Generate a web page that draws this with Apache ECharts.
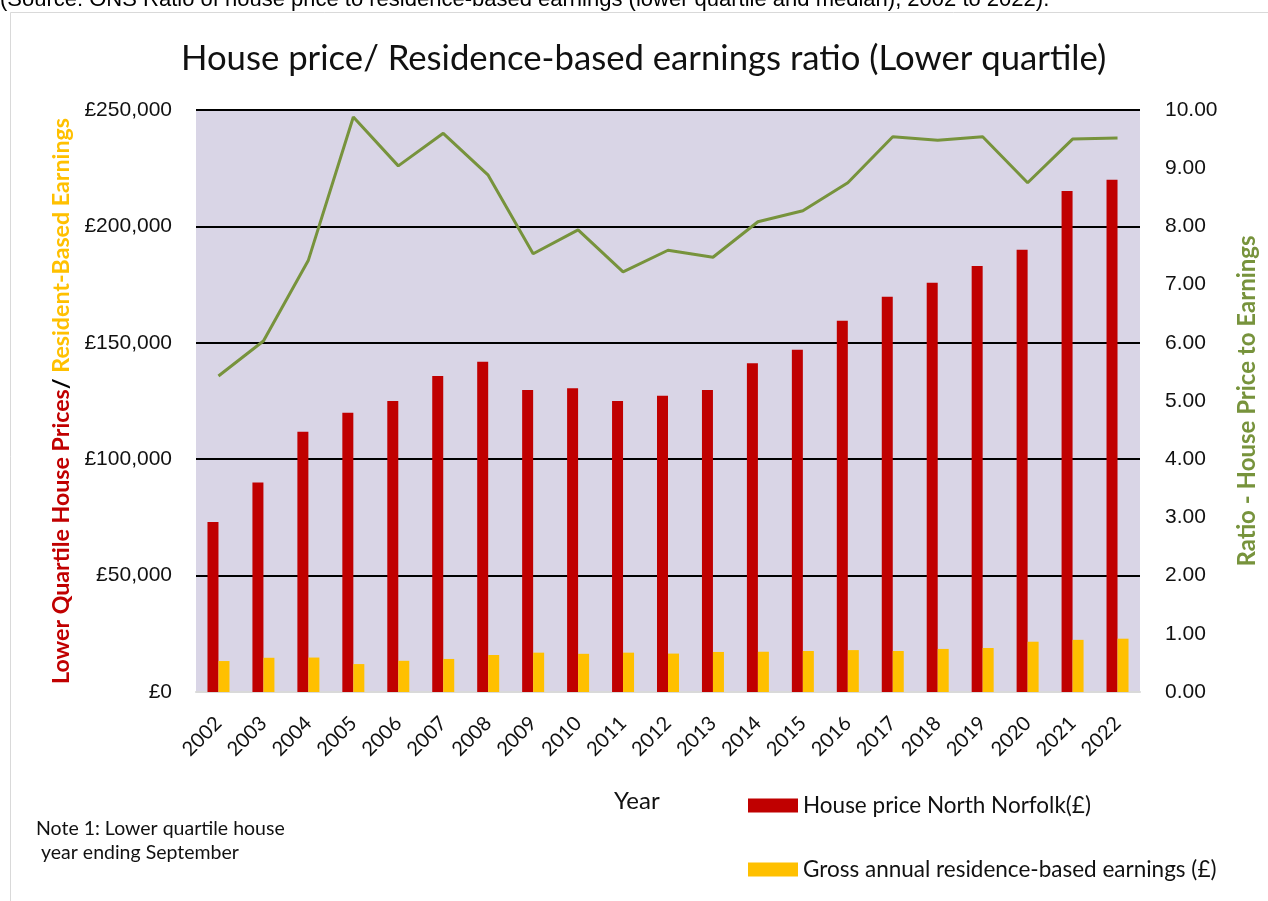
<!DOCTYPE html>
<html>
<head>
    <meta charset="utf-8">
    <title>House price / earnings ratio</title>
    <script src="https://cdn.jsdelivr.net/npm/echarts@6/dist/echarts.min.js"></script>
    <style>
        html, body { margin: 0; padding: 0; background: #fff; }
    </style>
</head>
<body>
    <div id="main" style="width: 1268px;height:901px;"></div>
    <script type="text/javascript">
        // data
        var years = ['2002', '2003', '2004', '2005', '2006', '2007', '2008', '2009', '2010', '2011', '2012',
            '2013', '2014', '2015', '2016', '2017', '2018', '2019', '2020', '2021', '2022'];
        var housePrice = [73000, 89950, 111750, 119950, 125000, 135750, 141850, 129750, 130500, 125000, 127250,
            129750, 141250, 147000, 159500, 169750, 175750, 183000, 190000, 215250, 220000];
        var earnings = [13300, 14700, 14800, 12000, 13400, 14200, 15900, 16900, 16400, 16900, 16500,
            17200, 17300, 17600, 18000, 17600, 18500, 18900, 21600, 22400, 22900];
        var ratio = [5.43, 6.03, 7.42, 9.88, 9.04, 9.60, 8.88, 7.53, 7.94, 7.22, 7.59,
            7.47, 8.08, 8.27, 8.75, 9.54, 9.48, 9.54, 8.75, 9.50, 9.52];

        var cal = 'Lato, "Noto Sans", sans-serif';
        var arial = '"Liberation Sans", Arial, sans-serif';

        var myChart = echarts.init(document.getElementById('main'));

        var option = {
            backgroundColor: '#ffffff',
            animation: false,
            title: {
                text: 'House price/ Residence-based earnings ratio (Lower quartile)',
                left: 181,
                top: 41,
                padding: 0,
                textStyle: { fontFamily: cal, fontSize: 34.7, fontWeight: 'normal', color: '#111' }
            },
            legend: {
                data: ['House price North Norfolk(£)', 'Gross annual residence-based earnings (£)'],
                orient: 'vertical',
                left: 748,
                top: 794,
                padding: 0,
                itemWidth: 50,
                itemHeight: 14,
                itemGap: 41,
                icon: 'rect',
                textStyle: { fontFamily: cal, fontSize: 22.5, color: '#111' }
            },
            grid: {
                left: 196,
                right: 128,
                top: 110,
                bottom: 209,
                show: true,
                backgroundColor: '#D9D5E6',
                borderWidth: 0
            },
            xAxis: {
                type: 'category',
                data: years,
                axisLine: { lineStyle: { color: '#D9D9D9', width: 2 } },
                axisTick: { show: false },
                axisLabel: {
                    rotate: 45,
                    interval: 0,
                    margin: 28,
                    fontFamily: cal,
                    fontSize: 20,
                    color: '#111'
                }
            },
            yAxis: [{
                type: 'value',
                min: 0,
                max: 250000,
                interval: 50000,
                position: 'left',
                axisLine: { show: false },
                axisTick: { show: false },
                splitLine: { showMinLine: false, lineStyle: { color: '#000', width: 2 } },
                axisLabel: {
                    margin: 24,
                    fontFamily: arial,
                    fontSize: 21,
                    color: '#111',
                    formatter: function (v) { return '£' + v.toLocaleString('en-GB'); }
                },
                name: '{r|Lower Quartile House Prices}{k|/}{y| Resident-Based Earnings}',
                nameLocation: 'middle',
                nameRotate: 90,
                nameGap: 123,
                nameTextStyle: {
                    rich: {
                        r: { fontFamily: cal, fontSize: 23.2, fontWeight: 'bold', color: '#C00000' },
                        k: { fontFamily: cal, fontSize: 23.2, fontWeight: 'bold', color: '#000' },
                        y: { fontFamily: cal, fontSize: 23.2, fontWeight: 'bold', color: '#FFC000' }
                    }
                }
            }, {
                type: 'value',
                min: 0,
                max: 10,
                interval: 1,
                position: 'right',
                axisLine: { show: false },
                axisTick: { show: false },
                splitLine: { show: false },
                axisLabel: {
                    margin: 25,
                    fontFamily: arial,
                    fontSize: 21,
                    color: '#111',
                    formatter: function (v) { return v.toFixed(2); }
                },
                name: 'Ratio - House Price to Earnings',
                nameLocation: 'middle',
                nameRotate: 90,
                nameGap: 95,
                nameTextStyle: { fontFamily: cal, fontSize: 24, fontWeight: 'bold', color: '#77933C' }
            }],
            series: [{
                name: 'House price North Norfolk(£)',
                type: 'bar',
                data: housePrice,
                barWidth: 11,
                barGap: '0%',
                itemStyle: { color: '#C00000' }
            }, {
                name: 'Gross annual residence-based earnings (£)',
                type: 'bar',
                data: earnings,
                barWidth: 11,
                barGap: '0%',
                itemStyle: { color: '#FFC000' }
            }, {
                name: 'Ratio',
                type: 'line',
                yAxisIndex: 1,
                data: ratio,
                showSymbol: false,
                symbol: 'none',
                lineStyle: { color: '#77933C', width: 3 },
                itemStyle: { color: '#77933C' },
                z: 5
            }],
            graphic: [{
                type: 'text',
                left: 0,
                top: -11,
                style: {
                    text: '(Source: ONS Ratio of house price to residence-based earnings (lower quartile and median), 2002 to 2022).',
                    font: '22px "Liberation Sans", Arial, sans-serif',
                    fill: '#000'
                }
            }, {
                type: 'polyline',
                shape: { points: [[10.5, 901], [10.5, 12.5], [1268, 12.5]] },
                style: { stroke: '#D9D9D9', lineWidth: 1, fill: null }
            }, {
                type: 'text',
                left: 614,
                top: 789,
                style: { text: 'Year', font: '24px ' + cal, fill: '#111' }
            }, {
                type: 'text',
                left: 36,
                top: 817,
                style: {
                    text: 'Note 1: Lower quartile house\n year ending September',
                    font: '19.5px ' + cal,
                    lineHeight: 24,
                    fill: '#111'
                }
            }]
        };

        myChart.setOption(option);
    </script>
</body>
</html>
